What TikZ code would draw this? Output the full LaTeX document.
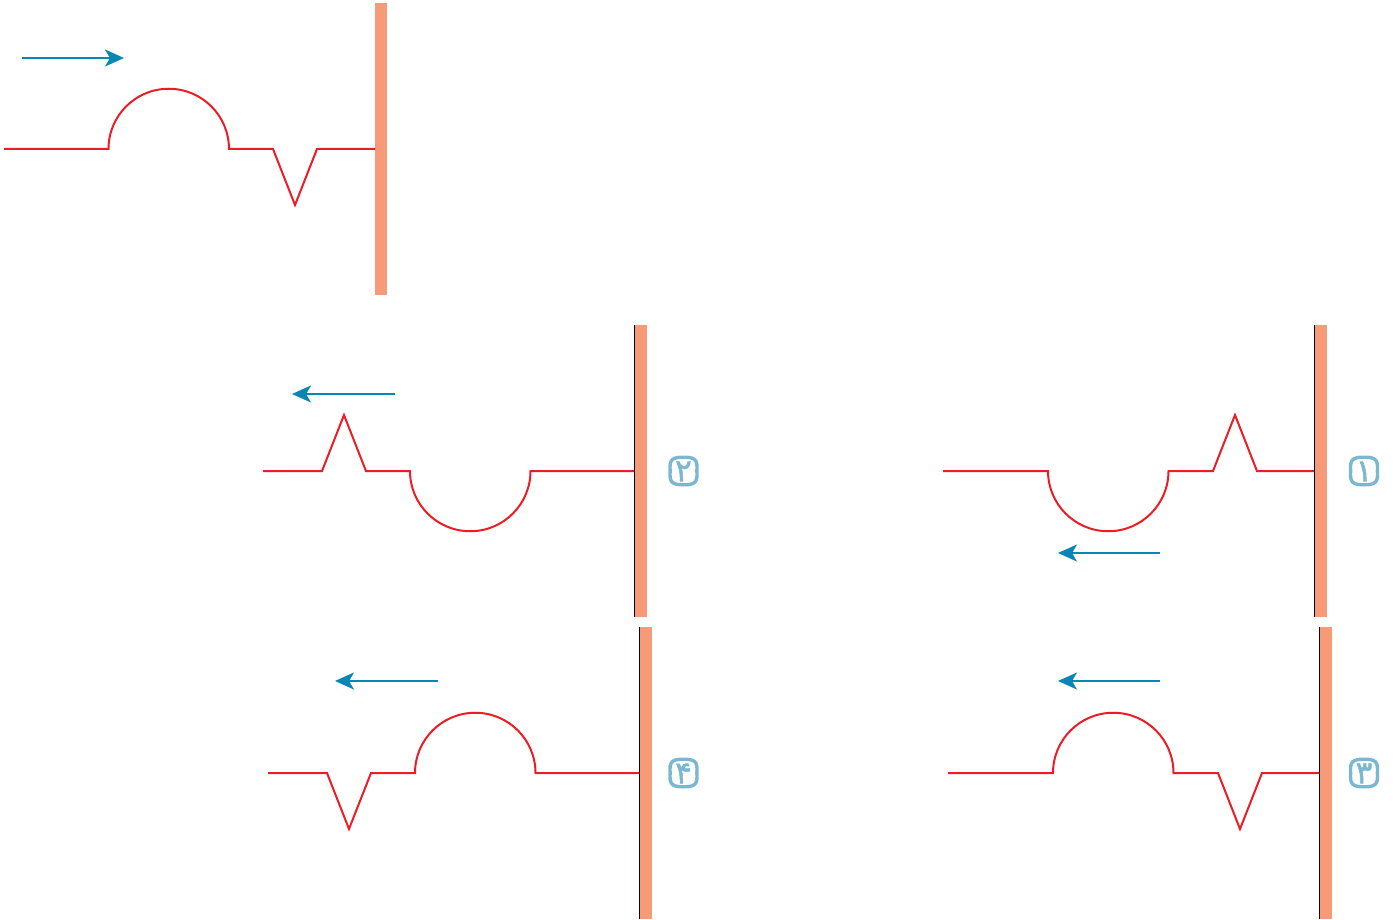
\documentclass[tikz,border=0pt]{standalone}
\usepackage{fontspec}
\usetikzlibrary{arrows.meta}
\newfontfamily\arabicfont[Script=Arabic,FakeBold=1.6]{DejaVu Sans}
\definecolor{wave}{HTML}{ED1C24}
\definecolor{wallc}{HTML}{F79A78}
\definecolor{arrowc}{HTML}{0A85B5}
\definecolor{badge}{HTML}{7AB8D2}
\tikzset{
  waveline/.style={draw=wave,line width=2pt,line join=miter},
  wallbar/.style={fill=wallc,draw=none},
  walledge/.style={draw=black,line width=1.5pt},
  motion/.style={draw=arrowc,line width=2pt,-{Stealth[length=19pt,width=17pt,inset=5pt]}},
  badgebox/.style={draw=badge,line width=3.4pt,line join=round},
  badgedigit/.style={text=badge,draw=none,inner sep=0pt,font=\arabicfont\fontsize{31pt}{31pt}\selectfont}
}
\newcommand{\badgeat}[3]{%
  \begin{scope}[shift={(#1,#2)}]
    \draw[badgebox] (-13.4,0) .. controls (-14.2,-11.5) and (-11.5,-13.8) .. (0,-13.8)
      .. controls (11.5,-13.8) and (14.2,-11.5) .. (13.4,0)
      .. controls (14.2,11.5) and (11.5,13.8) .. (0,13.8)
      .. controls (-11.5,13.8) and (-14.2,11.5) .. (-13.4,0) -- cycle;
    \node[badgedigit] (d#3) at (0,0.5) {\beginR #3\endR};
  \end{scope}}
\TeXXeTstate=1
\begin{document}
\begin{tikzpicture}[x=1pt,y=-1pt]
\useasboundingbox (0,0) rectangle (1393,920);
% top panel
\fill[wallbar] (374.5,3) rectangle (387,295);
\draw[waveline] (4,149) -- (108.5,149) arc[start angle=180,end angle=360,radius=60.25] -- (273,149) -- (295,205) -- (317,149) -- (375,149);
\coordinate (a0s) at (22,58); \coordinate (a0e) at (124,58);
\draw[motion] (a0s) -- (a0e);
% panel 2
\fill[wallbar] (634,325) rectangle (647,617);
\draw[walledge] (634.4,325) -- (634.4,617);
\draw[waveline] (263,471) -- (322,471) -- (344,415) -- (366,471) -- (410,471) arc[start angle=180,end angle=0,radius=60.25] -- (634,471);
\coordinate (a2s) at (395,394); \coordinate (a2e) at (292,394);
\draw[motion] (a2s) -- (a2e);
\badgeat{683.5}{471}{۲}
% panel 1
\fill[wallbar] (1314,325) rectangle (1327,617);
\draw[walledge] (1314.4,325) -- (1314.4,617);
\draw[waveline] (943,471) -- (1048,471) arc[start angle=180,end angle=0,radius=60.25] -- (1213,471) -- (1235,415) -- (1257,471) -- (1314,471);
\coordinate (a1s) at (1160,553); \coordinate (a1e) at (1058,553);
\draw[motion] (a1s) -- (a1e);
\badgeat{1364}{471}{۱}
% panel 4
\fill[wallbar] (639,627) rectangle (652,919);
\draw[walledge] (639.4,627) -- (639.4,919);
\draw[waveline] (268,773) -- (327,773) -- (349,829) -- (371,773) -- (415,773) arc[start angle=180,end angle=360,radius=60.25] -- (639,773);
\coordinate (a4s) at (438,681); \coordinate (a4e) at (335,681);
\draw[motion] (a4s) -- (a4e);
\badgeat{683.5}{773}{۴}
% panel 3
\fill[wallbar] (1319,627) rectangle (1332,919);
\draw[walledge] (1319.4,627) -- (1319.4,919);
\draw[waveline] (948,773) -- (1053,773) arc[start angle=180,end angle=360,radius=60.25] -- (1218,773) -- (1240,829) -- (1262,773) -- (1319,773);
\coordinate (a3s) at (1160,681); \coordinate (a3e) at (1058,681);
\draw[motion] (a3s) -- (a3e);
\badgeat{1364}{773}{۳}
\end{tikzpicture}
\end{document}
